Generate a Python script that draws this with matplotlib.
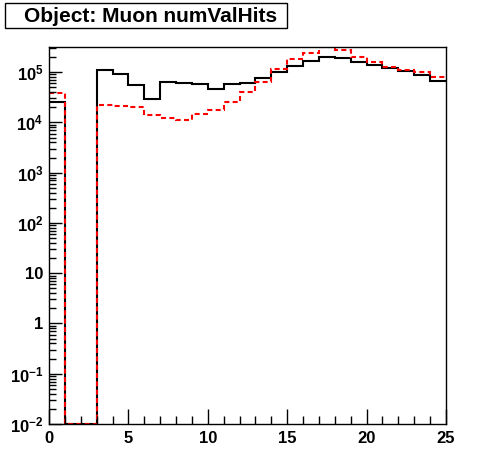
import numpy as np
import matplotlib
matplotlib.use("Agg")
import matplotlib.pyplot as plt
from matplotlib.patches import Rectangle
from matplotlib.ticker import FixedLocator, LogLocator, MultipleLocator, NullFormatter

# -----------------------------------------------------
# DATA (bins of width 1 from 0 to 25)
# -----------------------------------------------------

bin_edges = np.arange(0, 26, 1)

black_counts = [2.6e4, 0, 0, 1.1e5, 9.3e4, 5.6e4, 2.9e4, 6.4e4, 6.1e4, 5.9e4,
                4.6e4, 5.9e4, 6.1e4, 7.7e4, 1.02e5, 1.34e5, 1.68e5, 2.0e5,
                1.9e5, 1.6e5, 1.4e5, 1.2e5, 1.06e5, 8.8e4, 6.7e4]

red_counts = [3.8e4, 0, 0, 2.2e4, 2.1e4, 2.0e4, 1.4e4, 1.2e4, 1.1e4, 1.45e4,
              1.75e4, 2.6e4, 4.0e4, 6.3e4, 1.15e5, 1.8e5, 2.4e5, 3.2e5,
              2.7e5, 2.0e5, 1.6e5, 1.28e5, 1.1e5, 1.0e5, 8.1e4]

title_text = "Object: Muon numValHits"
y_tick_values = [1e-2, 1e-1, 1, 10, 1e2, 1e3, 1e4, 1e5]
y_tick_labels = ["10$^{-2}$", "10$^{-1}$", "1", "10", "10$^{2}$", "10$^{3}$", "10$^{4}$", "10$^{5}$"]

# -----------------------------------------------------
# STYLE
# -----------------------------------------------------

plt.rcParams["font.family"] = ["Liberation Sans", "DejaVu Sans"]
plt.rcParams["font.weight"] = "bold"
plt.rcParams["mathtext.fontset"] = "custom"
plt.rcParams["mathtext.rm"] = "Liberation Sans"
plt.rcParams["mathtext.default"] = "rm"

Y_MIN = 1e-2
Y_MAX = 10 ** 5.5
W, H = 496, 472

fig = plt.figure(figsize=(W / 100, H / 100), dpi=100)
ax = fig.add_axes([49 / W, 48 / H, 397 / W, 377 / H])

# zero bins are drawn on the floor like ROOT does
black_draw = np.where(np.array(black_counts) > 0, black_counts, Y_MIN)
red_draw = np.where(np.array(red_counts) > 0, red_counts, Y_MIN)

ax.stairs(black_draw, bin_edges, baseline=None, color="black", linewidth=1.5)
ax.stairs(red_draw, bin_edges, baseline=None, color="red", linewidth=1.5,
          linestyle=(0, (2.4, 1.6)))

ax.set_yscale("log")
ax.set_xlim(0, 25)
ax.set_ylim(Y_MIN, Y_MAX)

# -----------------------------------------------------
# TICKS
# -----------------------------------------------------

ax.xaxis.set_major_locator(MultipleLocator(5))
ax.xaxis.set_minor_locator(MultipleLocator(1))
ax.yaxis.set_major_locator(FixedLocator(y_tick_values))
ax.set_yticklabels(y_tick_labels)
ax.yaxis.set_minor_locator(LogLocator(base=10, subs=np.arange(2, 10)))
ax.yaxis.set_minor_formatter(NullFormatter())

ax.tick_params(axis="both", which="both", direction="in", top=False, right=False,
               labelsize=12, width=1)
ax.tick_params(axis="x", which="major", length=11, pad=5)
ax.tick_params(axis="x", which="minor", length=6)
ax.tick_params(axis="y", which="major", length=9, pad=4)
ax.tick_params(axis="y", which="minor", length=5)

for lab in ax.get_xticklabels() + ax.get_yticklabels():
    lab.set_fontweight("bold")

for spine in ax.spines.values():
    spine.set_linewidth(1)

# -----------------------------------------------------
# TITLE BOX
# -----------------------------------------------------

fig.patches.append(Rectangle((5 / W, 1 - 28 / H), 282 / W, 25 / H,
                             transform=fig.transFigure, facecolor="white",
                             edgecolor="black", linewidth=1))
fig.text(151 / W, 1 - 16 / H, title_text, ha="center", va="center",
         fontsize=15, fontweight="bold")

fig.savefig("out.png", dpi=100)
